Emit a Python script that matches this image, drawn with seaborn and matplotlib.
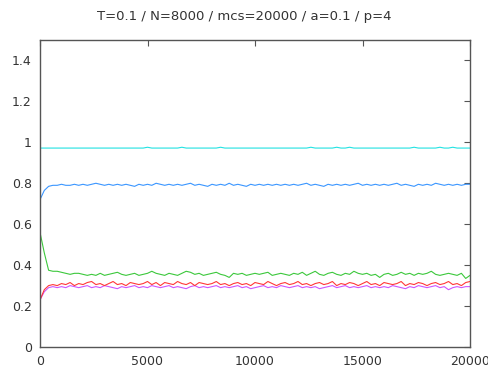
import numpy as np
import pandas as pd
import matplotlib
matplotlib.use("Agg")
import matplotlib.pyplot as plt
import seaborn as sns

mcs = list(range(0, 20001, 200))

cyan_vals = [0.972, 0.972, 0.972, 0.972, 0.972, 0.972, 0.972, 0.972, 0.972, 0.972,
             0.972, 0.972, 0.972, 0.972, 0.972, 0.972, 0.972, 0.972, 0.972, 0.972,
             0.972, 0.972, 0.972, 0.972, 0.972, 0.976, 0.972, 0.972, 0.972, 0.972,
             0.972, 0.972, 0.972, 0.976, 0.972, 0.972, 0.972, 0.972, 0.972, 0.972,
             0.972, 0.972, 0.976, 0.972, 0.972, 0.972, 0.972, 0.972, 0.972, 0.972,
             0.972, 0.972, 0.972, 0.972, 0.972, 0.972, 0.972, 0.972, 0.972, 0.972,
             0.972, 0.972, 0.972, 0.976, 0.972, 0.972, 0.972, 0.972, 0.972, 0.976,
             0.972, 0.972, 0.976, 0.972, 0.972, 0.972, 0.972, 0.972, 0.972, 0.972,
             0.972, 0.972, 0.972, 0.972, 0.972, 0.972, 0.972, 0.976, 0.972, 0.972,
             0.972, 0.972, 0.972, 0.976, 0.972, 0.972, 0.976, 0.972, 0.972, 0.972, 0.972]

blue_vals = [0.72, 0.765, 0.785, 0.79, 0.79, 0.795, 0.79, 0.79, 0.795, 0.79,
             0.795, 0.79, 0.795, 0.80, 0.795, 0.79, 0.795, 0.79, 0.795, 0.79,
             0.795, 0.79, 0.785, 0.795, 0.79, 0.795, 0.79, 0.80, 0.795, 0.79,
             0.795, 0.79, 0.795, 0.79, 0.795, 0.80, 0.79, 0.795, 0.79, 0.785,
             0.795, 0.79, 0.795, 0.79, 0.80, 0.79, 0.795, 0.79, 0.785, 0.795,
             0.79, 0.795, 0.79, 0.795, 0.79, 0.795, 0.79, 0.795, 0.79, 0.795,
             0.79, 0.795, 0.80, 0.79, 0.795, 0.79, 0.785, 0.795, 0.79, 0.795,
             0.79, 0.795, 0.79, 0.795, 0.80, 0.79, 0.795, 0.79, 0.795, 0.79,
             0.795, 0.79, 0.795, 0.80, 0.79, 0.795, 0.79, 0.785, 0.795, 0.79,
             0.795, 0.79, 0.80, 0.795, 0.79, 0.795, 0.79, 0.795, 0.79, 0.795, 0.795]

green_vals = [0.56, 0.46, 0.375, 0.37, 0.37, 0.365, 0.36, 0.355, 0.36, 0.36,
              0.355, 0.35, 0.355, 0.35, 0.36, 0.35, 0.355, 0.36, 0.365, 0.355,
              0.35, 0.355, 0.36, 0.35, 0.355, 0.36, 0.37, 0.36, 0.355, 0.35,
              0.36, 0.355, 0.35, 0.36, 0.37, 0.365, 0.355, 0.36, 0.35, 0.355,
              0.36, 0.365, 0.355, 0.35, 0.34, 0.36, 0.355, 0.36, 0.35, 0.355,
              0.36, 0.355, 0.36, 0.365, 0.35, 0.355, 0.36, 0.355, 0.35, 0.36,
              0.355, 0.365, 0.35, 0.36, 0.37, 0.355, 0.35, 0.36, 0.365, 0.355,
              0.35, 0.36, 0.355, 0.37, 0.36, 0.355, 0.36, 0.35, 0.355, 0.34,
              0.355, 0.36, 0.35, 0.355, 0.365, 0.355, 0.36, 0.35, 0.36, 0.355,
              0.36, 0.37, 0.355, 0.35, 0.355, 0.36, 0.355, 0.35, 0.36, 0.335, 0.35]

red_vals = [0.23, 0.28, 0.30, 0.305, 0.30, 0.31, 0.305, 0.315, 0.30, 0.31,
            0.305, 0.315, 0.32, 0.305, 0.31, 0.30, 0.31, 0.32, 0.305, 0.31,
            0.30, 0.315, 0.31, 0.305, 0.31, 0.32, 0.305, 0.315, 0.30, 0.315,
            0.31, 0.305, 0.32, 0.31, 0.305, 0.315, 0.30, 0.315, 0.31, 0.305,
            0.31, 0.32, 0.305, 0.31, 0.30, 0.31, 0.315, 0.305, 0.31, 0.30,
            0.315, 0.31, 0.305, 0.32, 0.31, 0.30, 0.31, 0.315, 0.305, 0.31,
            0.32, 0.305, 0.31, 0.30, 0.31, 0.315, 0.305, 0.31, 0.32, 0.30,
            0.31, 0.305, 0.315, 0.31, 0.30, 0.31, 0.32, 0.305, 0.31, 0.30,
            0.315, 0.31, 0.305, 0.31, 0.32, 0.30, 0.31, 0.305, 0.315, 0.31,
            0.30, 0.31, 0.315, 0.305, 0.31, 0.32, 0.305, 0.31, 0.30, 0.315, 0.32]

magenta_vals = [0.23, 0.27, 0.29, 0.295, 0.29, 0.295, 0.29, 0.30, 0.295, 0.29,
                0.295, 0.30, 0.29, 0.295, 0.29, 0.30, 0.295, 0.29, 0.285, 0.295,
                0.29, 0.295, 0.30, 0.29, 0.295, 0.29, 0.30, 0.295, 0.29, 0.295,
                0.30, 0.29, 0.295, 0.29, 0.285, 0.295, 0.30, 0.29, 0.295, 0.29,
                0.295, 0.30, 0.29, 0.295, 0.29, 0.295, 0.30, 0.29, 0.295, 0.285,
                0.29, 0.295, 0.30, 0.29, 0.295, 0.29, 0.30, 0.295, 0.29, 0.295,
                0.30, 0.29, 0.295, 0.29, 0.295, 0.285, 0.29, 0.295, 0.30, 0.29,
                0.295, 0.30, 0.29, 0.295, 0.29, 0.295, 0.30, 0.29, 0.295, 0.29,
                0.295, 0.29, 0.30, 0.295, 0.29, 0.285, 0.295, 0.29, 0.30, 0.295,
                0.29, 0.295, 0.30, 0.29, 0.295, 0.28, 0.29, 0.295, 0.29, 0.295, 0.295]

series_names = ["s1", "s2", "s3", "s4", "s5"]
series_vals = [cyan_vals, blue_vals, green_vals, magenta_vals, red_vals]
series_colors = ["#22e2e2", "#3a96ff", "#3cc83c", "#cc55ff", "#ff3838"]

xticks = [0, 5000, 10000, 15000, 20000]
xtick_labels = ["0", "5000", "10000", "15000", "20000"]
yticks = [0, 0.2, 0.4, 0.6, 0.8, 1.0, 1.2, 1.4]
ytick_labels = ["0", "0.2", "0.4", "0.6", "0.8", "1", "1.2", "1.4"]
title = "T=0.1 / N=8000 / mcs=20000 / a=0.1 / p=4"

rows = []
for name, vals in zip(series_names, series_vals):
    for x, y in zip(mcs, vals):
        rows.append({"mcs": x, "value": y, "series": name})
df = pd.DataFrame(rows)

sns.set_style("white")
plt.rcParams["font.family"] = ["DejaVu Sans"]

fig = plt.figure(figsize=(4.89, 3.70), dpi=100)
ax = fig.add_axes([40 / 489, 23 / 370, 430 / 489, 307 / 370])

sns.lineplot(data=df, x="mcs", y="value", hue="series",
             palette=dict(zip(series_names, series_colors)),
             linewidth=0.8, legend=False, ax=ax)

ax.set_xlim(0, 20000)
ax.set_ylim(0, 1.5)
ax.set_xticks(xticks)
ax.set_xticklabels(xtick_labels)
ax.set_yticks(yticks)
ax.set_yticklabels(ytick_labels)
ax.set_xlabel("")
ax.set_ylabel("")
ax.tick_params(direction="in", length=4, width=0.8, colors="#555555",
               labelsize=9, top=True, right=True, pad=6, labelcolor="#333333")
for sp in ax.spines.values():
    sp.set_color("#555555")
    sp.set_linewidth(1.0)
fig.text(0.5, 0.955, title, ha="center", va="center", fontsize=9.5, color="#333333")

fig.savefig("out.png", dpi=100)
